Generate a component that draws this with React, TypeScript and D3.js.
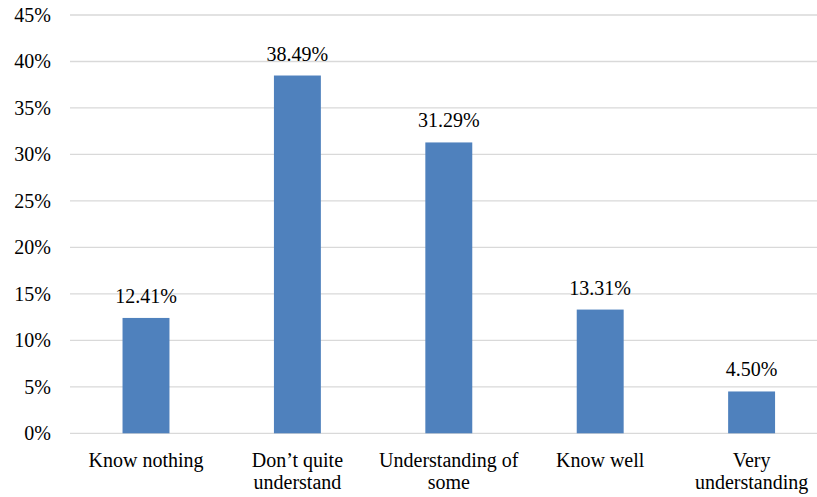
import React from "react";
import * as d3 from "d3";

const categories: string[][] = [
  ["Know nothing"],
  ["Don\u2019t quite", "understand"],
  ["Understanding of", "some"],
  ["Know well"],
  ["Very", "understanding"],
];
const values: number[] = [12.41, 38.49, 31.29, 13.31, 4.5];
const yTicks: number[] = [0, 5, 10, 15, 20, 25, 30, 35, 40, 45];

const W = 817;
const H = 497;
const FONT = '"Liberation Serif", "Times New Roman", Times, serif';
const textStyle: React.CSSProperties = { fontFamily: FONT, fontSize: 20 };

export default function App() {
  const x = d3
    .scaleBand<number>()
    .domain(values.map((_, i) => i))
    .range([70.3, 827.3])
    .paddingInner(0.69)
    .paddingOuter(0.345);
  const y = d3.scaleLinear().domain([0, 45]).range([433.3, 15]);

  return (
    <svg
      width={W}
      height={H}
      style={{ position: "absolute", left: 0, top: 0, background: "#fff", fontFamily: FONT }}
    >
      {yTicks.map((t) => (
        <g key={t}>
          <line x1={70} x2={W} y1={y(t)} y2={y(t)} stroke="#d9d9d9" strokeWidth={1.3} />
          <text x={51} y={y(t)} dy="0.35em" textAnchor="end" style={textStyle} fill="#000">
            {t}%
          </text>
        </g>
      ))}
      {values.map((v, i) => {
        const bx = x(i)!;
        const bw = x.bandwidth();
        return (
          <g key={i}>
            <rect x={bx} y={y(v)} width={bw} height={y(0) - y(v)} fill="#4f81bd" />
            <text x={bx + bw / 2} y={y(v) - 15} textAnchor="middle" style={textStyle} fill="#000">
              {v.toFixed(2)}%
            </text>
            {categories[i].map((line, j) => (
              <text
                key={j}
                x={bx + bw / 2}
                y={467 + j * 22}
                textAnchor="middle"
                style={textStyle}
                fill="#000"
              >
                {line}
              </text>
            ))}
          </g>
        );
      })}
    </svg>
  );
}
